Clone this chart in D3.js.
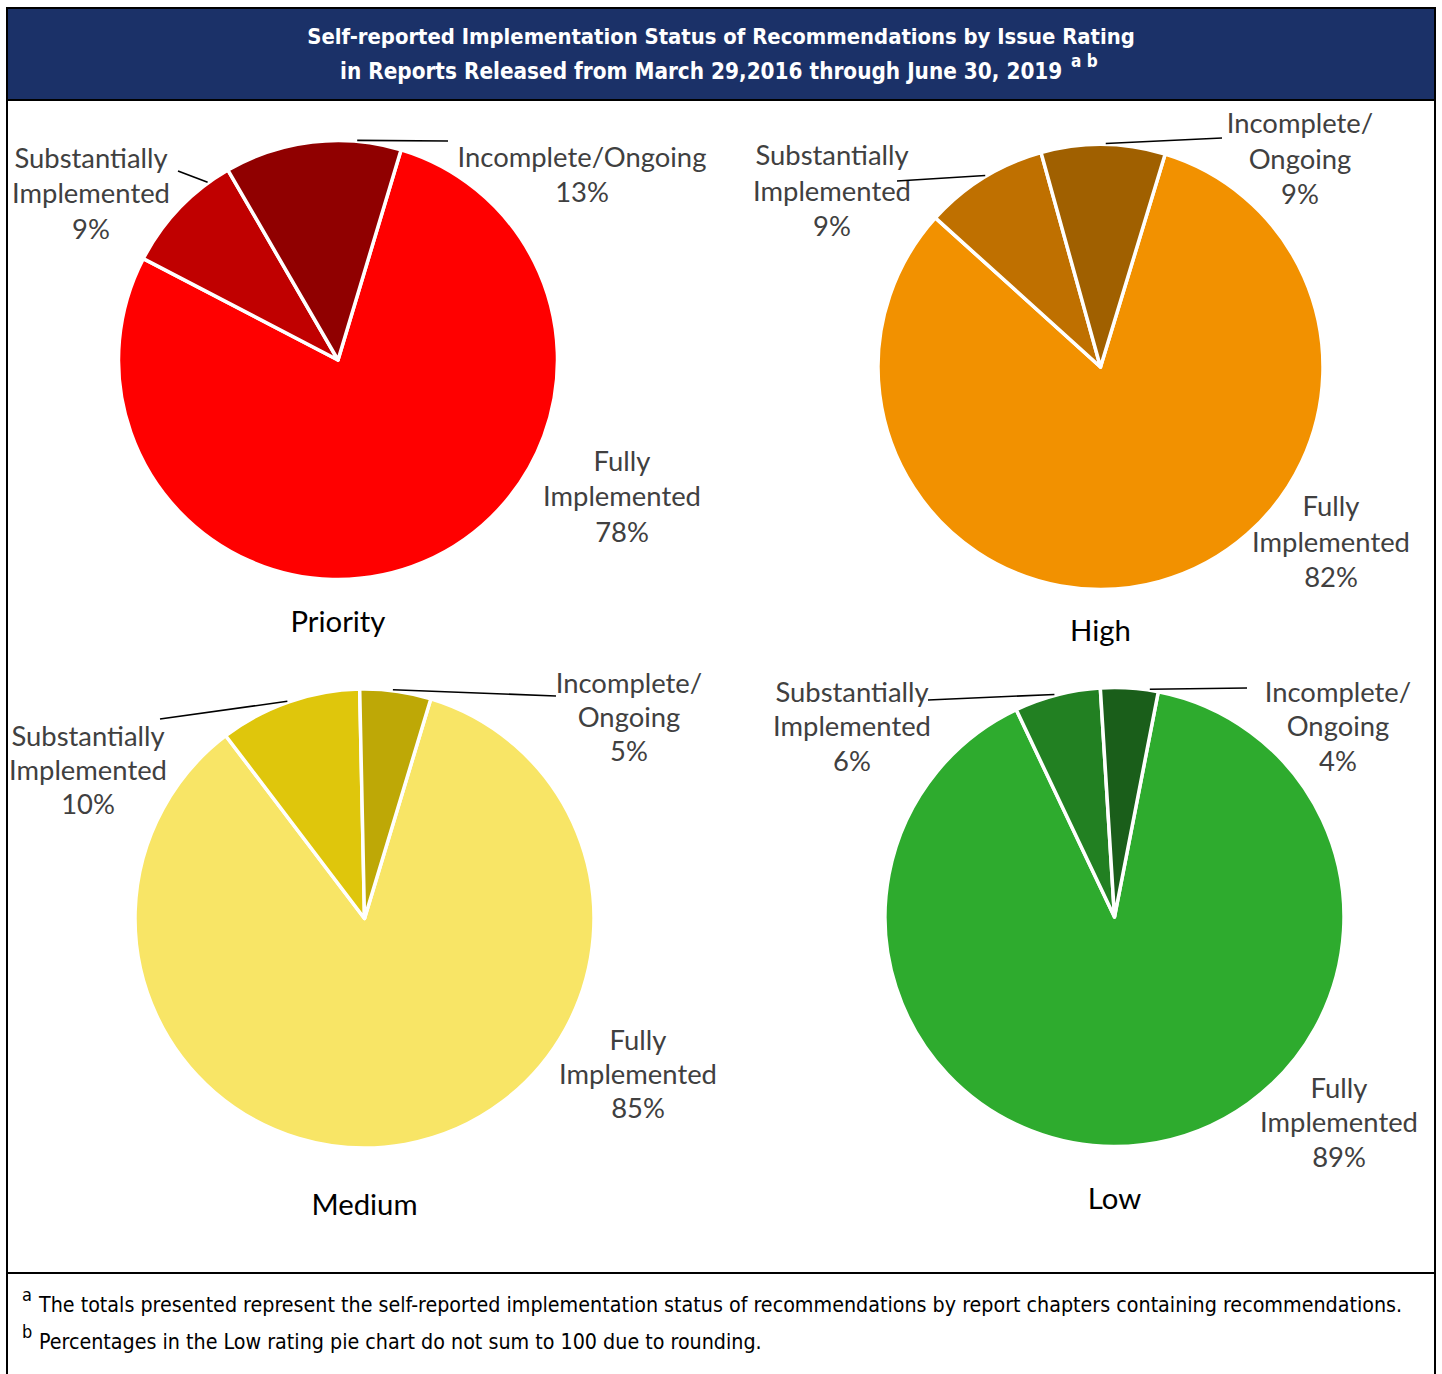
<!DOCTYPE html>
<html><head><meta charset="utf-8">
<script src="https://cdn.jsdelivr.net/npm/d3@7"></script>
<style>html,body{margin:0;padding:0;background:#fff;}svg{display:block;}</style>
</head><body>
<svg id="chart" width="1442" height="1374"></svg>
<script>
// ---- data ----
const categories = ["Priority", "High", "Medium", "Low"];
const statuses = ["Fully Implemented", "Substantially Implemented", "Incomplete/Ongoing"];
const fullyValues = [78, 82, 85, 89];
const substantiallyValues = [9, 9, 10, 6];
const incompleteValues = [13, 9, 5, 4];
const titleLines = ["Self-reported Implementation Status of Recommendations by Issue Rating",
                    "in Reports Released from March 29,2016 through June 30, 2019"];
const footnotes = [["a", "The totals presented represent the self-reported implementation status of recommendations by report chapters containing recommendations."],
                   ["b", "Percentages in the Low rating pie chart do not sum to 100 due to rounding."]];

// ---- styling / layout ----
const palettes = [
  ["#FF0000", "#C00000", "#900000"],
  ["#F29100", "#BF7000", "#A06000"],
  ["#F8E566", "#DFC60C", "#BEA806"],
  ["#2EAB2E", "#228022", "#1A5E1A"]
];
const layout = [
  {cx:338, cy:360, r:219.5, start:16.7, gap:35.5, nameY:621,
   lab:{fully:[622,461], subst:[91,158], inc:[582,157]},
   incOneLine:true,
   lead:{subst:[0.81,[178,171]], inc:[0.75,[448,141]]}},
  {cx:1100.5, cy:367, r:222.5, start:16.9, gap:35.8, nameY:630,
   lab:{fully:[1331,506], subst:[832,155], inc:[1300,123]},
   lead:{subst:[0.52,[897,181]], inc:[0.52,[1222,138]]}},
  {cx:364.5, cy:918.5, r:229.5, start:16.8, gap:34.3, nameY:1204,
   lab:{fully:[638,1040], subst:[88,736], inc:[629,683]},
   lead:{subst:[0.49,[160,719]], inc:[0.46,[556,696]]}},
  {cx:1114.5, cy:917, r:229.5, start:11, gap:34.5, nameY:1198,
   lab:{fully:[1339,1088], subst:[852,692], inc:[1338,692]},
   lead:{subst:[0.47,[928,700]], inc:[0.85,[1247,688]]}}
];
const labelFont = "Lato, 'Open Sans', sans-serif";
const titleFont = "'DejaVu Sans Condensed', 'DejaVu Sans', sans-serif";

const svg = d3.select("#chart");

function fitSize(family, weight, text, target) {
  const t = svg.append("text").attr("font-family", family).attr("font-weight", weight)
    .attr("font-size", 100).text(text);
  const w = t.node().getComputedTextLength();
  t.remove();
  return 100 * target / w;
}

// frame
svg.append("rect").attr("x", 7).attr("y", 8).attr("width", 1428).attr("height", 1400)
  .attr("fill", "none").attr("stroke", "#000").attr("stroke-width", 2);
svg.append("rect").attr("x", 7).attr("y", 8).attr("width", 1428).attr("height", 92)
  .attr("fill", "#1B3168").attr("stroke", "#000").attr("stroke-width", 2);
svg.append("line").attr("x1", 7).attr("x2", 1435).attr("y1", 1273).attr("y2", 1273)
  .attr("stroke", "#000").attr("stroke-width", 2);

// title
const t1 = fitSize(titleFont, "bold", titleLines[0], 828);
svg.append("text").attr("x", 721).attr("y", 36).attr("dy", "0.36em").attr("text-anchor", "middle")
  .attr("font-family", titleFont).attr("font-weight", "bold").attr("font-size", t1)
  .attr("fill", "#fff").text(titleLines[0]);
const t2 = fitSize(titleFont, "bold", titleLines[1], 723);
svg.append("text").attr("x", 340).attr("y", 71).attr("dy", "0.36em")
  .attr("font-family", titleFont).attr("font-weight", "bold").attr("font-size", t2)
  .attr("fill", "#fff").text(titleLines[1]);
svg.append("text").attr("x", 1071).attr("y", 61).attr("dy", "0.36em")
  .attr("font-family", titleFont).attr("font-weight", "bold").attr("font-size", 17)
  .attr("fill", "#fff").text("a b");

// footnotes
const f1 = fitSize(titleFont, "normal", footnotes[0][1], 1364);
footnotes.forEach((fn, i) => {
  const y = 1304 + i * 37;
  svg.append("text").attr("x", 22).attr("y", y - 9).attr("dy", "0.36em")
    .attr("font-family", titleFont).attr("font-size", 18).attr("fill", "#000").text(fn[0]);
  svg.append("text").attr("x", 39).attr("y", y).attr("dy", "0.36em")
    .attr("font-family", titleFont).attr("font-size", f1).attr("fill", "#000").text(fn[1]);
});

// pies
const labelSize = fitSize(labelFont, "normal", "Implemented", 158);
const nameSize = fitSize(labelFont, "normal", "Priority", 95);
const rad = d => d * Math.PI / 180;

categories.forEach((cat, i) => {
  const L = layout[i];
  const vals = [fullyValues[i], substantiallyValues[i], incompleteValues[i]];
  const data = statuses.map((s, k) => ({status: s, value: vals[k], k}));
  const pie = d3.pie().sort(null).value(d => d.value)
    .startAngle(rad(L.start)).endAngle(rad(L.start) + 2 * Math.PI);
  const arcs = pie(data);
  const arc = d3.arc().innerRadius(0).outerRadius(L.r);
  const g = svg.append("g").attr("transform", `translate(${L.cx},${L.cy})`);
  g.selectAll("path").data(arcs).join("path")
    .attr("d", arc).attr("fill", d => palettes[i][d.data.k])
    .attr("stroke", "#fff").attr("stroke-width", 3.5).attr("stroke-linejoin", "round");

  // leader lines
  [["subst", 1], ["inc", 2]].forEach(([key, k]) => {
    const [frac, end] = L.lead[key];
    const a = arcs[k].startAngle + frac * (arcs[k].endAngle - arcs[k].startAngle);
    const rr = L.r + 1;
    svg.append("line")
      .attr("x1", L.cx + rr * Math.sin(a)).attr("y1", L.cy - rr * Math.cos(a))
      .attr("x2", end[0]).attr("y2", end[1])
      .attr("stroke", "#000").attr("stroke-width", 1.6);
  });

  // labels
  const pct = v => v + "%";
  const groups = [
    ["fully", ["Fully", "Implemented", pct(vals[0])]],
    ["subst", ["Substantially", "Implemented", pct(vals[1])]],
    ["inc", L.incOneLine ? ["Incomplete/Ongoing", pct(vals[2])] : ["Incomplete/", "Ongoing", pct(vals[2])]]
  ];
  groups.forEach(([key, lines]) => {
    const [x, y] = L.lab[key];
    lines.forEach((ln, j) => {
      svg.append("text").attr("x", x).attr("y", y + j * L.gap).attr("dy", "0.36em")
        .attr("text-anchor", "middle").attr("font-family", labelFont)
        .attr("font-size", labelSize).attr("fill", "#404040").text(ln);
    });
  });

  svg.append("text").attr("x", L.cx).attr("y", L.nameY).attr("dy", "0.36em")
    .attr("text-anchor", "middle").attr("font-family", labelFont)
    .attr("font-size", nameSize).attr("fill", "#000").text(cat);
});
</script>
</body></html>
